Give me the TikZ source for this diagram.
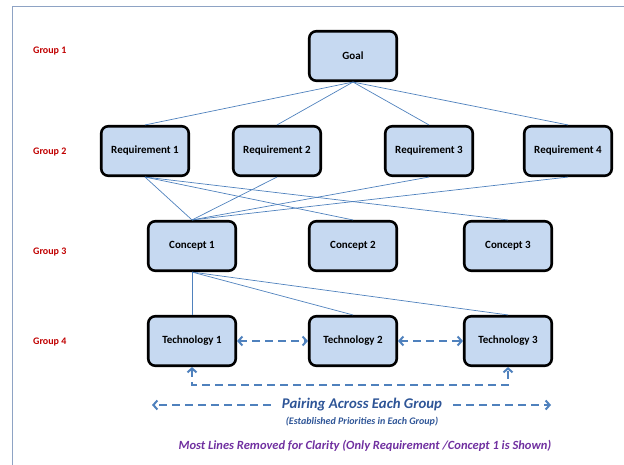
\documentclass[tikz,border=0pt]{standalone}
\usepackage{fontspec}
\setmainfont{Carlito}
\usepackage{tikz}
\usetikzlibrary{
	arrows.meta
	,positioning
}
\definecolor{boxblue}{HTML}{C6D9F1}
\definecolor{lineblue}{HTML}{4F81BD}
\definecolor{grpred}{HTML}{C00000}
\definecolor{notepurple}{HTML}{7030A0}
\definecolor{titleblue}{HTML}{2E5597}
\definecolor{framegray}{HTML}{8EA3C4}

\begin{document}
\begin{tikzpicture}[x=1pt,y=-1pt,
	block/.style={draw=black,line width=2.6pt,fill=boxblue,rounded corners=7pt,minimum width=87.5pt,minimum height=49.5pt,font=\bfseries\fontsize{11}{13}\selectfont},
	grp/.style={text=grpred,font=\bfseries\fontsize{10}{12}\selectfont,anchor=west,inner sep=0pt},
	link/.style={lineblue,line width=0.7pt},
	pair/.style={lineblue,line width=2pt,dash pattern=on 8pt off 5pt},
	barb/.tip={Straight Barb[length=4pt,width=9pt]}]
\useasboundingbox (0,0) rectangle (624,465);
\draw[framegray,line width=0.8pt] (12.5,470) |- (630,6.5);
% group labels
\node[grp] (g1) at (33,51) {Group 1};
\node[grp] (g2) at (33,152) {Group 2};
\node[grp] (g3) at (33,252) {Group 3};
\node[grp] (g4) at (33,342) {Group 4};
% boxes
\path (353,56) node[block] (goal) {Goal};
\path (145,151) node[block] (r1) {Requirement 1};
\path (277,151) node[block] (r2) {Requirement 2};
\path (429,151) node[block] (r3) {Requirement 3};
\path (568,151) node[block] (r4) {Requirement 4};
\path (192,246) node[block] (c1) {Concept 1};
\path (353,246) node[block] (c2) {Concept 2};
\path (508,246) node[block] (c3) {Concept 3};
\path (192,341) node[block] (t1) {Technology 1};
\path (353,341) node[block] (t2) {Technology 2};
\path (508,341) node[block] (t3) {Technology 3};
\foreach \r in {r1,r2,r3,r4} \draw[link] (goal.south) -- (\r.north);
\foreach \c in {c1,c2,c3} \draw[link] (r1.south) -- (\c.north);
\foreach \r in {r2,r3,r4} \draw[link] (\r.south) -- (c1.north);
\foreach \t in {t1,t2,t3} \draw[link] (c1.south) -- (\t.north);
% pairing arrows
\draw[pair,barb-barb] (t1.east) -- (t2.west);
\draw[pair,barb-barb] (t2.east) -- (t3.west);
\draw[pair,barb-barb] (t1.south) -- ++(0,18) -| (t3.south);
\node[text=titleblue,font=\bfseries\itshape\fontsize{14.8}{16}\selectfont,inner xsep=11pt] (pairing) at (362,405) {Pairing Across Each Group};
\coordinate (pairL) at (152,405);
\coordinate (pairR) at (551,405);
\draw[pair,-barb] (pairing.west) -- (pairL);
\draw[pair,-barb] (pairing.east) -- (pairR);
\node[text=titleblue,font=\bfseries\itshape\fontsize{10}{12}\selectfont] (prio) at (362,422) {(Established Priorities in Each Group)};
\node[text=notepurple,font=\bfseries\itshape\fontsize{12.5}{14}\selectfont] (note) at (365,446) {Most Lines Removed for Clarity (Only Requirement /Concept 1 is Shown)};
\end{tikzpicture}
\end{document}
